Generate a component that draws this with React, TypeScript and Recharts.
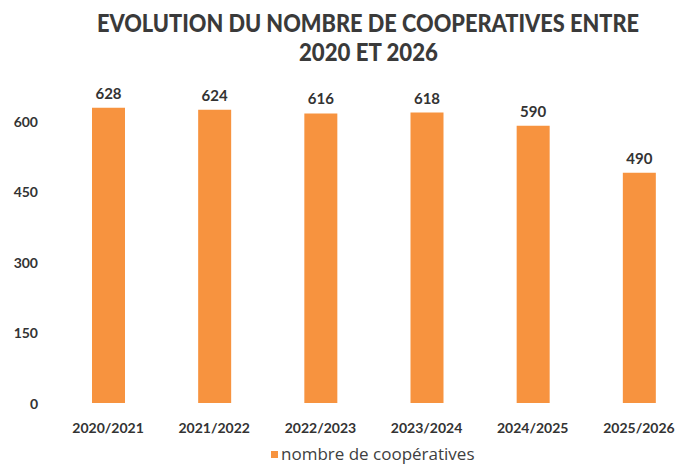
import { BarChart, Bar, XAxis, YAxis, LabelList, Legend } from "recharts";

const seasons = ["2020/2021", "2021/2022", "2022/2023", "2023/2024", "2024/2025", "2025/2026"];
const cooperatives = [628, 624, 616, 618, 590, 490];
const yTicks = [0, 150, 300, 450, 600];
const titleLines = ["EVOLUTION DU NOMBRE DE COOPERATIVES ENTRE", "2020 ET 2026"];
const seriesName = "nombre de coopératives";

const ORANGE = "#F7933F";
const INK = "#333333";

const data = seasons.map((season, i) => ({ season, cooperatives: cooperatives[i] }));

const YTick = ({ y, payload }: any) => (
  <text x={38} y={y} textAnchor="end" dominantBaseline="central" fill={INK} fontFamily="Lato" fontWeight={700} fontSize={14}>
    {payload.value}
  </text>
);

const XTick = ({ x, payload }: any) => (
  <text x={x} y={427} textAnchor="middle" dominantBaseline="central" fill={INK} fontFamily="Lato" fontWeight={700} fontSize={14}>
    {payload.value}
  </text>
);

const LegendContent = ({ payload }: any) => (
  <div style={{ display: "flex", alignItems: "center", fontFamily: "'Open Sans'", fontSize: 17, lineHeight: "20px", color: "#404040", whiteSpace: "nowrap" }}>
    <span style={{ display: "inline-block", width: 7, height: 7, background: ORANGE, marginRight: 3 }} />
    {payload && payload[0] ? payload[0].value : seriesName}
  </div>
);

export default function App() {
  return (
    <div style={{ position: "fixed", left: 0, top: 0, width: 675, height: 466, overflow: "hidden", background: "#fff" }}>
      <svg width={675} height={80} style={{ position: "absolute", left: 0, top: 0, overflow: "visible" }}>
        <text x={368} y={32} textAnchor="middle" fill="#3a3a3a" fontFamily="Lato" fontWeight={900} fontSize={25} textLength={542} lengthAdjust="spacingAndGlyphs">
          {titleLines[0]}
        </text>
        <text x={368.5} y={61} textAnchor="middle" fill="#3a3a3a" fontFamily="Lato" fontWeight={900} fontSize={24} textLength={139} lengthAdjust="spacingAndGlyphs">
          {titleLines[1]}
        </text>
      </svg>
      <BarChart width={700} height={466} data={data} margin={{ top: 50.5, right: 8, bottom: 0, left: 0 }}>
        <XAxis dataKey="season" axisLine={false} tickLine={false} tick={<XTick />} height={43} interval={0} />
        <YAxis domain={[0, 750]} ticks={yTicks} axisLine={false} tickLine={false} tick={<YTick />} width={55} />
        <Legend
          content={<LegendContent />}
          wrapperStyle={{ position: "absolute", left: 271, top: 444, width: "auto", height: 20 }}
        />
        <Bar dataKey="cooperatives" name={seriesName} fill={ORANGE} barSize={33} isAnimationActive={false}>
          <LabelList dataKey="cooperatives" position="top" offset={9} fill={INK} fontFamily="Lato" fontWeight={700} fontSize={15} />
        </Bar>
      </BarChart>
    </div>
  );
}
